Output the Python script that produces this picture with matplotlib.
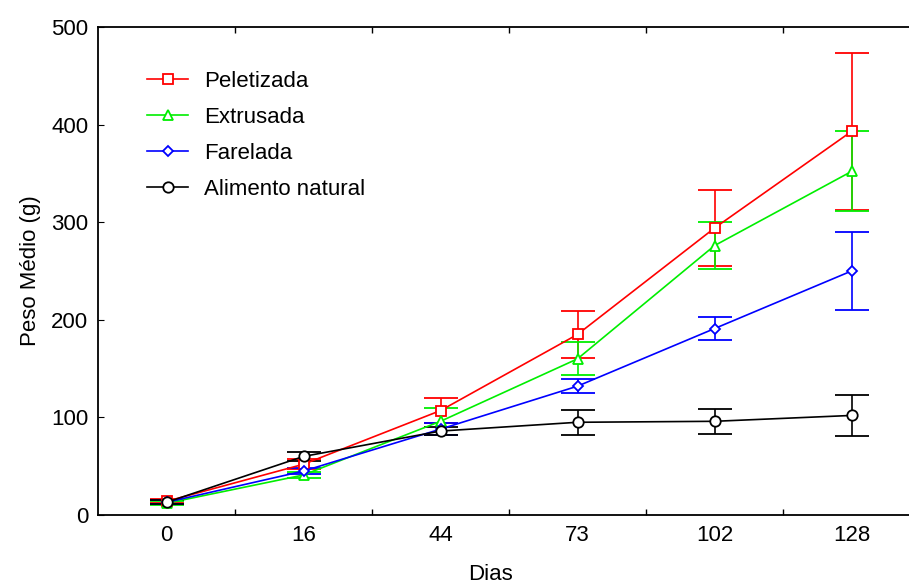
import matplotlib
matplotlib.use("Agg")
import matplotlib.pyplot as plt
from matplotlib.ticker import FixedLocator

plt.rcParams["font.family"] = ["Liberation Sans", "DejaVu Sans"]

dias = ["0", "16", "44", "73", "102", "128"]

peletizada = [14, 52, 107, 185, 294, 393]
peletizada_err = [2, 5, 13, 24, 39, 80]

extrusada = [12, 41, 96, 160, 276, 352]
extrusada_err = [2, 3, 14, 17, 24, 41]

farelada = [13, 45, 88, 132, 191, 250]
farelada_err = [2, 3, 6, 7, 12, 40]

natural = [13, 60, 86, 95, 96, 102]
natural_err = [2, 5, 4, 13, 13, 21]

series = [
    ("Peletizada", peletizada, peletizada_err, "#ff0000", "s", 6.5),
    ("Extrusada", extrusada, extrusada_err, "#00ee00", "^", 6.5),
    ("Farelada", farelada, farelada_err, "#0000ff", "D", 5.5),
    ("Alimento natural", natural, natural_err, "#000000", "o", 7.5),
]

fig = plt.figure(figsize=(9.09, 5.87), dpi=100)
ax = fig.add_axes([98 / 909, 72 / 587, 822 / 909, 488 / 587])

x = list(range(len(dias)))
handles = []
labels = []
for name, vals, err, color, marker, ms in series:
    c = ax.errorbar(
        x, vals, yerr=err, color=color, marker=marker, markersize=ms,
        markerfacecolor="white", markeredgecolor=color, markeredgewidth=1.3,
        linewidth=1.2, elinewidth=1.2, capsize=12, capthick=1.2,
    )
    handles.append(c[0])
    labels.append(name)

ax.set_xlim(-0.5, 5.5)
ax.set_ylim(0, 500)
ax.set_xticks(x)
ax.set_xticklabels(dias)
ax.xaxis.set_minor_locator(FixedLocator([0.5, 1.5, 2.5, 3.5, 4.5]))
ax.tick_params(axis="x", which="major", length=0, labelsize=16, pad=7)
ax.tick_params(axis="x", which="minor", direction="in", length=4,
               top=True, bottom=True, width=1)
ax.set_yticks([0, 100, 200, 300, 400, 500])
ax.tick_params(axis="y", direction="in", length=4, labelsize=16, pad=7)

ax.spines["right"].set_visible(False)
for s in ["left", "bottom", "top"]:
    ax.spines[s].set_linewidth(1.3)

ax.set_xlabel("Dias", fontsize=16)
ax.xaxis.set_label_coords((490 - 98) / 822, -0.1)
ax.set_ylabel("Peso Médio (g)", fontsize=16, labelpad=7)

ax.legend(handles, labels, loc="upper left", bbox_to_anchor=(0.0596, 0.91),
          frameon=False, fontsize=16, handlelength=1.85, labelspacing=0.68,
          handletextpad=0.72, borderpad=0, borderaxespad=0)

fig.savefig("out.png", dpi=100)
